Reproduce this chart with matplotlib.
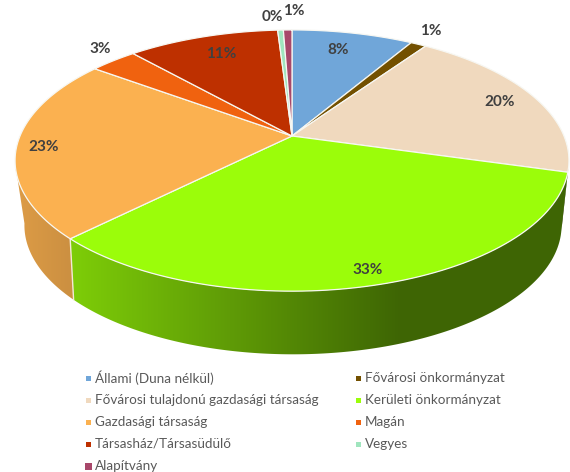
import numpy as np
import matplotlib
matplotlib.use("Agg")
import matplotlib.pyplot as plt
from matplotlib.patches import Polygon, Rectangle

categories = ["Állami (Duna nélkül)", "Fővárosi önkormányzat",
              "Fővárosi tulajdonú gazdasági társaság", "Kerületi önkormányzat",
              "Gazdasági társaság", "Magán",
              "Társasház/Társasüdülő", "Vegyes", "Alapítvány"]
values = [8.5, 1.1, 19.8, 33.1, 22.6, 3.3, 10.6, 0.4, 0.6]
value_labels = ["8%", "1%", "20%", "33%", "23%", "3%", "11%", "0%", "1%"]
colors = ["#70A6D9", "#735000", "#F0D9BE", "#9BFD0A", "#FBB150",
          "#F0620F", "#BE3000", "#A0E5BE", "#A8476A"]

# hol ülnek a címkék (pixel)
label_pos = [(338, 50), (431, 31), (500, 102), (368, 270), (44, 147),
             (100, 49), (221, 54), (272, 17), (294, 11)]


def project(theta, r=1.0, top=True):
    """Kördiszk pont -> kép pixel, egyszerű perspektívával."""
    u = r * np.sin(theta)
    v = r * np.cos(theta)
    if top:
        cx, y0, a, b, k = 292, 136, 272, 126, 0.188
    else:
        cx, y0, a, b, k = 293, 197, 262, 122.7, 0.22
    d = 1 + k * v
    return cx + a * u / d, y0 - b * v / d


def shade(color, x):
    """Oldalfal sötétítése x szerint."""
    f = np.clip(0.88 - (x - 16) / 384 * 0.48, 0.4, 0.88)
    return np.outer(f, matplotlib.colors.to_rgb(color))


plt.rcParams["font.family"] = ["Lato", "DejaVu Sans"]
fig = plt.figure(figsize=(5.7, 4.72), dpi=100)
ax = fig.add_axes([0, 0, 1, 1])

edges = np.cumsum([0] + values) / np.sum(values) * 2 * np.pi

# oldalfal: vízszintes színátmenet a fal alakjára vágva
grad_x = np.arange(0, 570)
for i, color in enumerate(colors):
    th = np.linspace(edges[i], edges[i + 1], 200)
    th = th[np.cos(th) < -0.2]  # csak ami a kontúrig látszik
    if len(th) < 2:
        continue
    xt, yt = project(th)
    xb, yb = project(th, top=False)
    wall = Polygon(np.r_[np.c_[xt, yt], np.c_[xb, yb][::-1]], closed=True,
                   facecolor="none", edgecolor="none", transform=ax.transData)
    ax.add_patch(wall)
    img = ax.imshow(shade(color, grad_x)[np.newaxis, :, :], extent=(0, 570, 472, 0),
                    aspect="auto", zorder=1, interpolation="nearest")
    img.set_clip_path(wall)

ax.set_xlim(0, 570)
ax.set_ylim(472, 0)
ax.axis("off")

# szeletek közti világos él az oldalfalon
x0, y0 = project(edges[4])
x1, y1 = project(edges[4], top=False)
ax.plot([x0, x1], [y0, y1], color="#F3E9D8", lw=1, zorder=2)

# felső lap
for i, color in enumerate(colors):
    th = np.linspace(edges[i], edges[i + 1], 80)
    xs, ys = project(th)
    pts = [project(0.0, 0.0)] + list(zip(xs, ys))
    ax.add_patch(Polygon(pts, closed=True, facecolor=color, edgecolor="#F7F7F2",
                         lw=0.9, zorder=3, joinstyle="round"))

for txt, (x, y) in zip(value_labels, label_pos):
    ax.text(x, y, txt, ha="center", va="center", fontsize=11, fontweight="bold",
            color="#404040", zorder=5)

# jelmagyarázat
legend_x = [85, 355]
legend_y = [378, 400, 422, 444, 466]
for i, (name, color) in enumerate(zip(categories, colors)):
    col = i % 2
    row = i // 2
    s = 7 if i == 8 else 5
    ax.add_patch(Rectangle((legend_x[col] + (5 - s) / 2 + 0.5, legend_y[row] - s / 2), s, s,
                           facecolor=color, edgecolor="none", zorder=5))
    ax.text(legend_x[col] + 10, legend_y[row], name, ha="left", va="center",
            fontsize=9.75, color="#595959", zorder=5)

fig.savefig("out.png", dpi=100)
